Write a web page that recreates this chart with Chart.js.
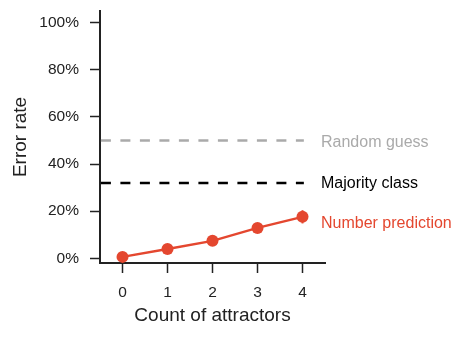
<!DOCTYPE html>
<html><head><meta charset="utf-8">
<script src="https://cdn.jsdelivr.net/npm/chart.js@4/dist/chart.umd.min.js"></script>
<style>html,body{margin:0;padding:0;background:#fff}#w{width:474px;height:337px}</style>
</head><body><div id="w"><canvas id="c" width="474" height="337"></canvas></div>
<script>
const categories = [0, 1, 2, 3, 4];
const numberPrediction = [0.6, 3.9, 7.4, 12.9, 17.6];
const numberPredictionErr = [0.3, 0.6, 0.8, 1.0, 2.8];
const randomGuess = 50;
const majorityClass = 32;
const yTicks = [0, 20, 40, 60, 80, 100];
const seriesLabels = ["Random guess", "Majority class", "Number prediction"];
const RED = '#e4472f', GREY = '#aaaaaa', BLACK = '#000000', AX = '#222222';
const FONT = "'Liberation Sans', Arial, sans-serif";

const labelPlugin = {
  id: 'lbl',
  afterDatasetsDraw(chart) {
    const {ctx, scales: {x, y}} = chart;
    ctx.save();
    ctx.strokeStyle = RED; ctx.lineWidth = 2;
    categories.forEach((c, i) => {
      const px = x.getPixelForValue(c);
      ctx.beginPath();
      ctx.moveTo(px, y.getPixelForValue(numberPrediction[i] - numberPredictionErr[i]));
      ctx.lineTo(px, y.getPixelForValue(numberPrediction[i] + numberPredictionErr[i]));
      ctx.stroke();
    });
    ctx.font = '16px ' + FONT;
    ctx.textBaseline = 'middle';
    ctx.textAlign = 'left';
    const lx = chart.chartArea.right - 4;
    ctx.fillStyle = GREY; ctx.fillText(seriesLabels[0], lx, y.getPixelForValue(randomGuess) + 2.5);
    ctx.fillStyle = BLACK; ctx.fillText(seriesLabels[1], lx, y.getPixelForValue(majorityClass) + 1);
    ctx.fillStyle = RED; ctx.fillText(seriesLabels[2], lx, y.getPixelForValue(numberPrediction[4]) + 6.5);
    ctx.restore();
  }
};

new Chart(document.getElementById('c'), {
  type: 'line',
  data: {
    datasets: [
      { label: seriesLabels[0], data: [{x: -0.48, y: randomGuess}, {x: 4.03, y: randomGuess}],
        borderColor: GREY, borderWidth: 2.5, borderDash: [10, 9.5], pointRadius: 0 },
      { label: seriesLabels[1], data: [{x: -0.48, y: majorityClass}, {x: 4.03, y: majorityClass}],
        borderColor: BLACK, borderWidth: 2.5, borderDash: [10, 9.5], pointRadius: 0 },
      { label: seriesLabels[2], data: categories.map((c, i) => ({x: c, y: numberPrediction[i]})),
        borderColor: RED, backgroundColor: RED, borderWidth: 2.5, pointRadius: 6, pointBorderWidth: 0 }
    ]
  },
  options: {
    responsive: false, animation: false, clip: false,
    layout: { padding: { left: 0, top: 11, right: 149, bottom: 0 } },
    plugins: { legend: { display: false }, tooltip: { enabled: false } },
    scales: {
      x: {
        type: 'linear', min: -0.5, max: 4.5,
        afterBuildTicks: s => { s.ticks = categories.map(v => ({value: v})); },
        afterFit: s => { s.height = 74; s.paddingLeft = 0; s.paddingRight = 0; },
        grid: { drawOnChartArea: false, drawTicks: true, tickLength: 10, color: AX, tickWidth: 1.5 },
        border: { display: true, color: AX, width: 2 },
        ticks: { color: AX, font: { size: 15.5, family: FONT }, padding: 10 },
        title: { display: true, text: 'Count of attractors', color: AX, font: { size: 19, family: FONT }, padding: { top: 0, bottom: 10 } }
      },
      y: {
        type: 'linear', min: -2, max: 105,
        afterBuildTicks: s => { s.ticks = yTicks.map(v => ({value: v})); },
        afterFit: s => { s.width = 100; s.paddingTop = 0; s.paddingBottom = 0; },
        grid: { drawOnChartArea: false, drawTicks: true, tickLength: 10, color: AX, tickWidth: 1.5 },
        border: { display: true, color: AX, width: 2 },
        ticks: { color: AX, font: { size: 15.5, family: FONT }, padding: 11, callback: v => v + '%' },
        title: { display: true, text: 'Error rate', color: AX, font: { size: 19, family: FONT }, padding: { top: 9, bottom: 0 } }
      }
    }
  },
  plugins: [labelPlugin]
});
</script></body></html>
